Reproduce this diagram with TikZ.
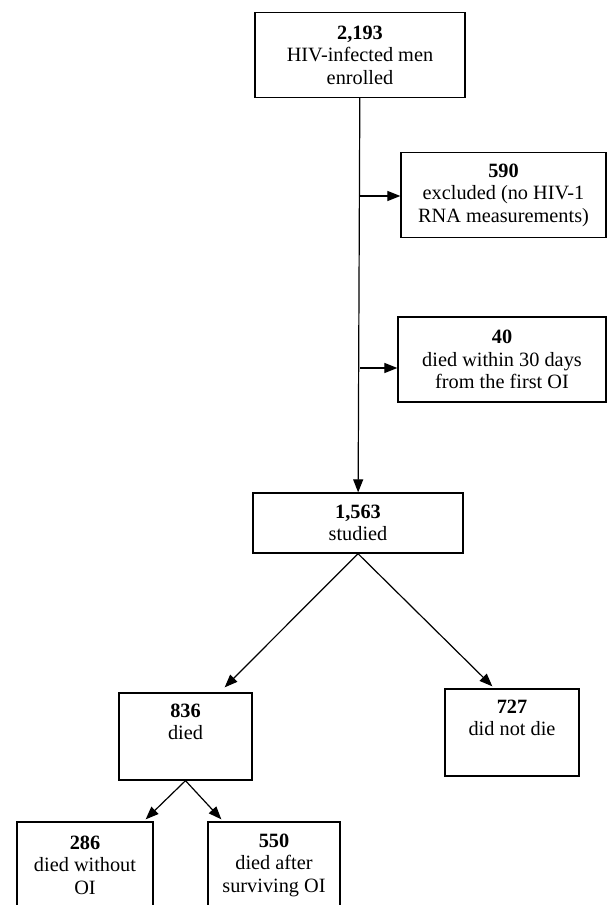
\documentclass[tikz,border=0pt]{standalone}
\usepackage{fontspec}
\setmainfont{Liberation Serif}
\usetikzlibrary{arrows.meta}

\begin{document}
\begin{tikzpicture}[x=1pt,y=-1pt]
	\useasboundingbox (0,0) rectangle (607,905);
	\begin{scope}[every node/.style={draw=black, line width=1.3pt, rectangle, inner sep=0pt,
			align=center, font=\fontsize{20.3}{22.5}\selectfont, minimum height=85pt}]
		\node[minimum width=210pt] (enrolled) at (360,55)    {\textbf{2,193}\\HIV-infected men\\enrolled};
		\node[minimum width=205pt] (excluded) at (503.5,195) {\textbf{590}\\excluded (no HIV-1\\RNA measurements)};
		\node[minimum width=208pt] (early)    at (502,359.5) {\textbf{40}\\died within 30 days\\from the first OI};
		\node[minimum width=210pt, minimum height=60pt] (studied) at (358,523) {\textbf{1,563}\\studied};
		\node[minimum width=133pt, minimum height=87pt] (died)  at (185.5,736.5) {\textbf{836}\\died\\\strut};
		\node[minimum width=134pt, minimum height=87pt] (alive) at (512,732.5)   {\textbf{727}\\did not die\\\strut};
		\node[minimum width=136pt, minimum height=86pt] (nooi)    at (85,865)  {\textbf{286}\\died without\\OI};
		\node[minimum width=132pt, minimum height=86pt] (afteroi) at (274,865) {\textbf{550}\\died after\\surviving OI};
	\end{scope}
	\coordinate (junca) at (360,196);
	\coordinate (juncb) at (360,368);
	\begin{scope}[every edge/.style={draw=black, line width=1.2pt, -{Triangle[length=13pt,width=10pt]}}]
		\path (enrolled) edge (studied);
		\path (junca) edge (junca -| excluded.west);
		\path (juncb) edge (juncb -| early.west);
		\path (studied.south) edge ([xshift=-28pt,yshift=5pt]died.north east);
		\path (studied.south) edge ([xshift=48pt,yshift=2pt]alive.north west);
		\path (died.south) edge ([xshift=-8pt,yshift=2pt]nooi.north east);
		\path (died.south) edge ([xshift=14pt,yshift=2pt]afteroi.north west);
	\end{scope}
\end{tikzpicture}
\end{document}
